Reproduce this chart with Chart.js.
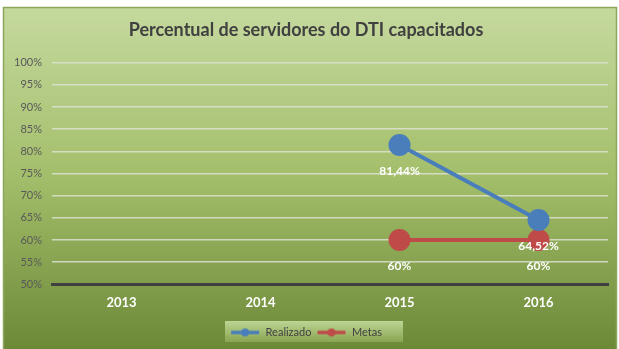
<!DOCTYPE html>
<html>
<head>
<meta charset="utf-8">
<script src="https://cdn.jsdelivr.net/npm/chart.js@4/dist/chart.umd.min.js"></script>
<style>
  html, body { margin: 0; padding: 0; background: #fff; }
  #wrap { width: 619px; height: 349px; }
</style>
</head>
<body>
<div id="wrap"><canvas id="grafico" width="619" height="349"></canvas></div>
<script>
'use strict';
const anos = ['2013', '2014', '2015', '2016'];
const realizado = [null, null, 81.44, 64.52];
const metas = [null, null, 60, 60];
const rotulosRealizado = ['', '', '81,44%', '64,52%'];
const rotulosMetas = ['', '', '60%', '60%'];

const azul = '#4a7ebb';
const vermelho = '#be4b48';
const fonte = 'Lato, "Open Sans", sans-serif';

// marcador da legenda: linha com bolinha no meio
function marcador(cor) {
  let c = document.createElement('canvas');
  c.width = 30;
  c.height = 10;
  let ctx = c.getContext('2d');
  ctx.strokeStyle = cor;
  ctx.lineWidth = 3.5;
  ctx.beginPath();
  ctx.moveTo(1, 5);
  ctx.lineTo(29, 5);
  ctx.stroke();
  ctx.fillStyle = cor;
  ctx.beginPath();
  ctx.arc(15, 5, 4, 0, Math.PI * 2);
  ctx.fill();
  return c;
}

// fundo verde em degradê com moldura, e caixa atrás da legenda
const fundo = {
  id: 'fundo',
  beforeDraw(chart) {
    let ctx = chart.ctx;
    ctx.save();
    let g = ctx.createLinearGradient(0, 7, 0, 349);
    g.addColorStop(0, '#c5d99e');
    g.addColorStop(0.5, '#a3be6a');
    g.addColorStop(1, '#6c8938');
    ctx.fillStyle = g;
    ctx.fillRect(3, 7, 614, 345);
    ctx.strokeStyle = '#8da65c';
    ctx.lineWidth = 1.5;
    ctx.strokeRect(3.5, 7.5, 613, 345);

    let boxes = chart.legend.legendHitBoxes;
    if (boxes && boxes.length) {
      let x0 = 225, x1 = 403, y0 = 321, y1 = 342;
      let lg = ctx.createLinearGradient(0, y0, 0, y1);
      lg.addColorStop(0, '#bdd594');
      lg.addColorStop(1, '#8aa552');
      ctx.fillStyle = lg;
      ctx.fillRect(x0, y0, x1 - x0, y1 - y0);
    }
    ctx.restore();
  }
};

// rótulos de valor em branco abaixo dos pontos
const rotulos = {
  id: 'rotulos',
  afterDatasetsDraw(chart) {
    let ctx = chart.ctx;
    let textos = [rotulosRealizado, rotulosMetas];
    ctx.save();
    ctx.font = 'bold 12px ' + fonte;
    ctx.fillStyle = '#ffffff';
    ctx.textAlign = 'center';
    ctx.textBaseline = 'middle';
    chart.data.datasets.forEach((ds, i) => {
      let meta = chart.getDatasetMeta(i);
      meta.data.forEach((pt, j) => {
        if (ds.data[j] == null) return;
        ctx.fillText(textos[i][j], pt.x, pt.y + 26);
      });
    });
    ctx.restore();
  }
};

new Chart(document.getElementById('grafico'), {
  type: 'line',
  data: {
    labels: anos,
    datasets: [
      {
        label: 'Realizado',
        data: realizado,
        borderColor: azul,
        backgroundColor: azul,
        borderWidth: 4,
        pointRadius: 11,
        pointHoverRadius: 11,
        pointBorderWidth: 0,
        pointStyle: 'circle'
      },
      {
        label: 'Metas',
        data: metas,
        borderColor: vermelho,
        backgroundColor: vermelho,
        borderWidth: 4,
        pointRadius: 11,
        pointHoverRadius: 11,
        pointBorderWidth: 0,
        pointStyle: 'circle'
      }
    ]
  },
  options: {
    responsive: false,
    animation: false,
    layout: { padding: { left: 3, right: 10, top: 0, bottom: 1 } },
    plugins: {
      title: {
        display: true,
        text: 'Percentual de servidores do DTI capacitados',
        color: '#404040',
        font: { family: fonte, size: 18, weight: 'bold' },
        padding: { top: 19, bottom: 22 }
      },
      legend: {
        position: 'bottom',
        labels: {
          color: '#404040',
          font: { family: fonte, size: 11 },
          usePointStyle: true,
          pointStyleWidth: 30,
          padding: 5,
          generateLabels(chart) {
            return chart.data.datasets.map((ds, i) => ({
              text: ds.label,
              pointStyle: marcador(ds.borderColor),
              fillStyle: ds.borderColor,
              strokeStyle: ds.borderColor,
              lineWidth: 0,
              fontColor: '#404040',
              datasetIndex: i
            }));
          }
        }
      },
      tooltip: { enabled: false }
    },
    scales: {
      x: {
        offset: true,
        grid: { display: false, drawTicks: false },
        border: { color: '#404040', width: 3 },
        ticks: {
          color: '#ffffff',
          font: { family: fonte, size: 13, weight: 'bold' },
          padding: 11
        }
      },
      y: {
        min: 50,
        max: 100,
        ticks: {
          stepSize: 5,
          color: '#595959',
          font: { family: fonte, size: 11 },
          padding: 10,
          callback: v => v + '%'
        },
        grid: {
          drawTicks: false,
          lineWidth: 1.5,
          color: ctx => ctx.tick && ctx.tick.value === 50 ? 'rgba(0,0,0,0)' : 'rgba(225,228,215,0.8)'
        },
        border: { display: false },
        afterFit(scale) { scale.width = 49; }
      }
    }
  },
  plugins: [fundo, rotulos]
});
</script>
</body>
</html>
